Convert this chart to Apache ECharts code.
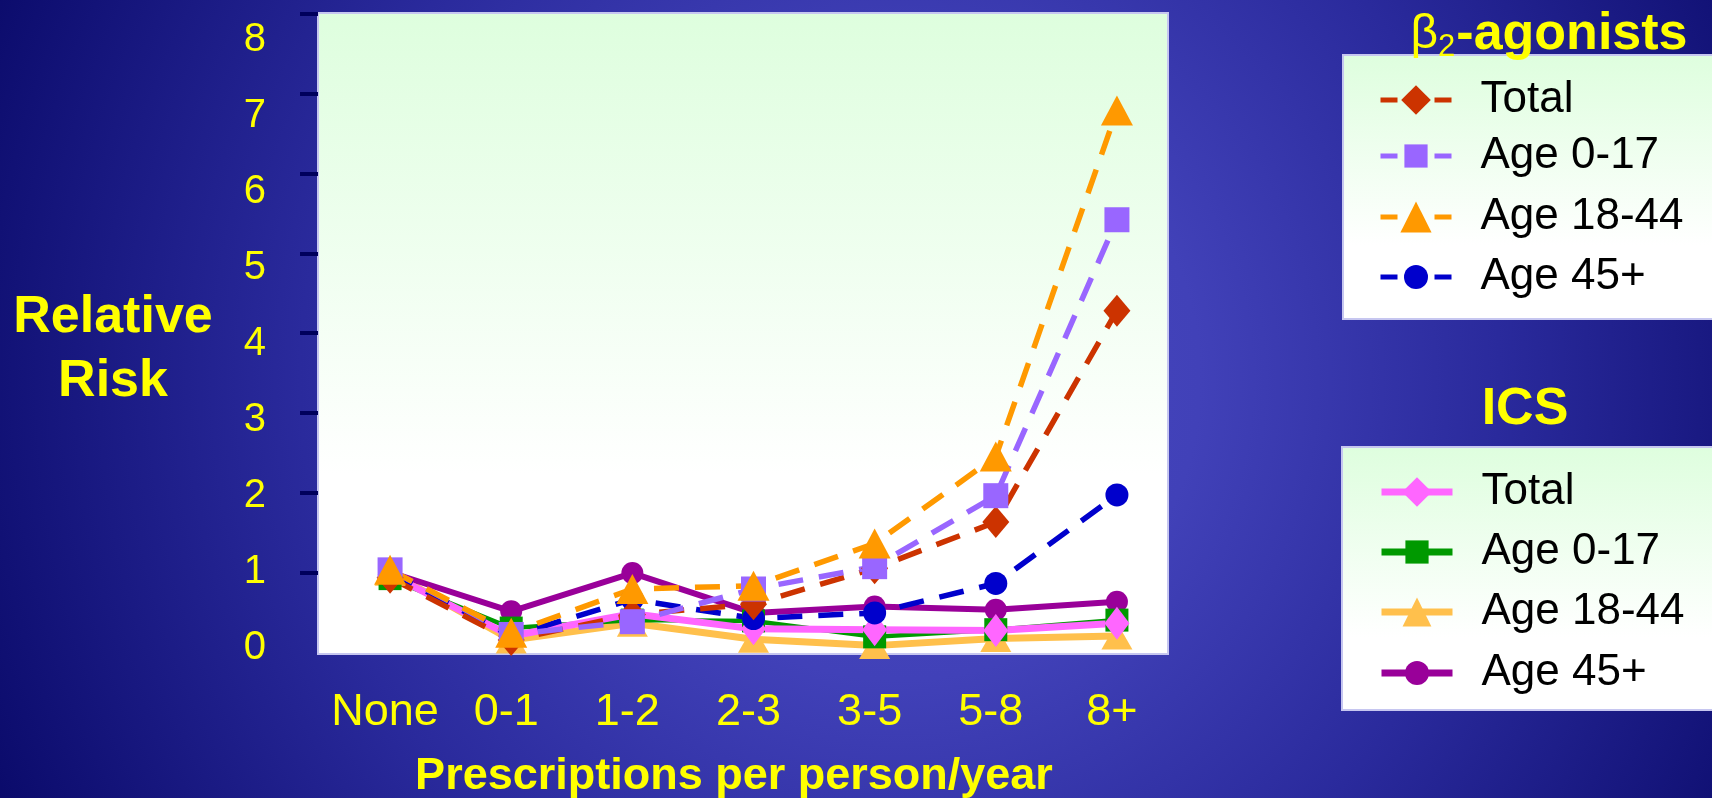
<!DOCTYPE html>
<html>
<head>
<meta charset="utf-8">
<script src="https://cdn.jsdelivr.net/npm/echarts@6/dist/echarts.min.js"></script>
<style>
  html, body { margin: 0; padding: 0; background: #0c0c6e; }
  #chart { width: 1712px; height: 798px; }
</style>
</head>
<body>
<div id="chart"></div>
<script>
// Prescription bands on the x axis
const categories = ['None', '0-1', '1-2', '2-3', '3-5', '5-8', '8+'];

// Relative-risk scale
const riskTicks = [0, 1, 2, 3, 4, 5, 6, 7, 8];
const riskTickMarks = [1, 2, 3, 4, 5, 6, 7, 8];

// β2-agonists (dashed lines)
const betaTotal   = [0.93, 0.15, 0.47, 0.60, 1.05, 1.63, 4.28];
const betaAge0_17 = [1.03, 0.22, 0.38, 0.79, 1.07, 1.96, 5.42];
const betaAge18_44 = [1.03, 0.24, 0.79, 0.83, 1.36, 2.45, 6.79];
const betaAge45   = [1.00, 0.20, 0.66, 0.42, 0.49, 0.86, 1.97];

// ICS (solid lines)
const icsTotal   = [0.97, 0.20, 0.48, 0.29, 0.28, 0.27, 0.36];
const icsAge0_17 = [0.92, 0.30, 0.40, 0.39, 0.19, 0.28, 0.40];
const icsAge18_44 = [1.00, 0.15, 0.36, 0.16, 0.08, 0.17, 0.20];
const icsAge45   = [1.00, 0.51, 0.99, 0.49, 0.57, 0.53, 0.63];

const FONT = '"Liberation Sans", Arial, Helvetica, sans-serif';
const YELLOW = '#FFFF00';
const SEP = ' · ';
const BETA = 'β2-agonists' + SEP;
const ICS = 'ICS' + SEP;

function lineSeries(name, data, color, symbol, size, dashed, width) {
  return {
    type: 'line',
    name: name,
    data: data,
    xAxisIndex: 0,
    yAxisIndex: 0,
    symbol: symbol,
    symbolSize: size,
    showAllSymbol: true,
    lineStyle: { color: color, width: width, type: dashed ? [25, 16] : 'solid', cap: 'butt' },
    itemStyle: { color: color, borderWidth: 0 },
    emphasis: { disabled: true },
    animation: false
  };
}

// Drawing order: ICS underneath, β2-agonists on top
const series = [
  lineSeries(ICS + 'Age 18-44', icsAge18_44, '#FFC04C', 'triangle', [31, 27], false, 7),
  lineSeries(ICS + 'Age 45+', icsAge45, '#990099', 'circle', 22, false, 6),
  lineSeries(ICS + 'Age 0-17', icsAge0_17, '#009900', 'rect', 23, false, 4.5),
  lineSeries(ICS + 'Total', icsTotal, '#FF66FF', 'diamond', [25, 33], false, 7),
  lineSeries(BETA + 'Age 45+', betaAge45, '#0000CC', 'circle', 23, true, 5.5),
  lineSeries(BETA + 'Total', betaTotal, '#CC3300', 'diamond', [27, 32], true, 5.5),
  lineSeries(BETA + 'Age 0-17', betaAge0_17, '#9966FF', 'rect', 25, true, 5.5),
  lineSeries(BETA + 'Age 18-44', betaAge18_44, '#FF9900', 'triangle', [32, 30], true, 5.5)
];

// One legend block per entry so each row sits exactly where it belongs
const legendRows = [
  { name: BETA + 'Total',     y: 100, h: 37, dashed: true },
  { name: BETA + 'Age 0-17',  y: 156, h: 29, dashed: true },
  { name: BETA + 'Age 18-44', y: 217, h: 39, dashed: true },
  { name: BETA + 'Age 45+',   y: 277, h: 30, dashed: true },
  { name: ICS + 'Total',      y: 492, h: 37, dashed: false },
  { name: ICS + 'Age 0-17',   y: 552, h: 29, dashed: false },
  { name: ICS + 'Age 18-44',  y: 612, h: 36, dashed: false },
  { name: ICS + 'Age 45+',    y: 673, h: 30, dashed: false }
];

const legends = legendRows.map(function (r) {
  return {
    data: [r.name],
    left: 1378,
    top: r.y - 25,
    padding: 0,
    itemGap: 0,
    itemWidth: 71,
    itemHeight: r.h,
    selectedMode: false,
    formatter: function (name) { return name.split(SEP)[1]; },
    textStyle: {
      color: '#000000', fontSize: 44, fontFamily: FONT, lineHeight: 50,
      padding: [0, 0, 0, 24]
    },
    itemStyle: { borderWidth: 0 },
    lineStyle: r.dashed ? { width: 5, type: [17, 37], cap: 'butt' } : { width: 7, type: 'solid', cap: 'butt' }
  };
});

const panelFill = {
  type: 'linear', x: 0, y: 0, x2: 0, y2: 1,
  colorStops: [
    { offset: 0, color: '#DEFEDE' },
    { offset: 0.72, color: '#FFFFFF' },
    { offset: 1, color: '#FFFFFF' }
  ]
};

const graphics = [
  {
    type: 'rect', z: -20, silent: true,
    shape: { x: 0, y: 0, width: 1712, height: 798 },
    style: {
      fill: {
        type: 'radial', x: 900, y: 380, r: 1000, global: true,
        colorStops: [
          { offset: 0, color: '#4949C2' },
          { offset: 0.3, color: '#4141B8' },
          { offset: 0.6, color: '#2A2A9C' },
          { offset: 1, color: '#0A0A6A' }
        ]
      }
    }
  },
  {
    type: 'rect', z: -10, silent: true,
    shape: { x: 318, y: 13, width: 850, height: 641 },
    style: { fill: panelFill, stroke: '#C6C6F0', lineWidth: 2 }
  },
  {
    type: 'rect', z: -10, silent: true,
    shape: { x: 1343, y: 55, width: 400, height: 264 },
    style: { fill: panelFill, stroke: '#C6C6F0', lineWidth: 2 }
  },
  {
    type: 'rect', z: -10, silent: true,
    shape: { x: 1342, y: 447, width: 400, height: 263 },
    style: { fill: panelFill, stroke: '#C6C6F0', lineWidth: 2 }
  },
  {
    type: 'text', z: 5, silent: true, x: 113, y: 350,
    style: {
      text: 'Relative\nRisk', fill: YELLOW, fontFamily: FONT, fontWeight: 'bold',
      fontSize: 52, lineHeight: 64, align: 'center', verticalAlign: 'middle'
    }
  },
  {
    type: 'text', z: 5, silent: true, x: 734, y: 777,
    style: {
      text: 'Prescriptions per person/year', fill: YELLOW, fontFamily: FONT, fontWeight: 'bold',
      fontSize: 45, lineHeight: 45, align: 'center', verticalAlign: 'middle'
    }
  },
  {
    type: 'text', z: 5, silent: true, x: 1549, y: 35,
    style: {
      text: '{b|β}{s|2}{a|-agonists}', align: 'center', verticalAlign: 'middle',
      rich: {
        b: { fill: YELLOW, fontFamily: FONT, fontSize: 48, lineHeight: 56 },
        s: { fill: YELLOW, fontFamily: FONT, fontSize: 31, lineHeight: 31, padding: [24, 1, 0, 0] },
        a: { fill: YELLOW, fontFamily: FONT, fontWeight: 'bold', fontSize: 52, lineHeight: 56 }
      }
    }
  },
  {
    type: 'text', z: 5, silent: true, x: 1525, y: 410,
    style: {
      text: 'ICS', fill: YELLOW, fontFamily: FONT, fontWeight: 'bold',
      fontSize: 52, lineHeight: 56, align: 'center', verticalAlign: 'middle'
    }
  }
];

const option = {
  animation: false,
  backgroundColor: '#0c0c6e',
  graphic: graphics,
  legend: legends,
  grid: [
    { left: 329.5, top: 14, width: 848, height: 638 },
    { left: 318, top: 40, width: 10, height: 608 }
  ],
  xAxis: [
    {
      gridIndex: 0, type: 'category', data: categories, boundaryGap: true,
      axisLine: { show: false }, axisTick: { show: false }, splitLine: { show: false },
      axisLabel: {
        color: YELLOW, fontSize: 45, fontFamily: FONT, margin: 61,
        verticalAlign: 'middle', padding: [0, 10, 0, 0], interval: 0
      }
    },
    { gridIndex: 1, type: 'value', show: false }
  ],
  yAxis: [
    {
      gridIndex: 0, type: 'value', min: 0, max: 8, interval: 1, offset: 11.5,
      axisLine: { show: false },
      axisTick: { show: true, length: 18, customValues: riskTickMarks, lineStyle: { color: '#00005C', width: 4 } },
      axisLabel: { show: false },
      splitLine: { show: false }
    },
    {
      gridIndex: 1, type: 'value', min: 0, max: 8, interval: 1,
      axisLine: { show: false }, axisTick: { show: false }, splitLine: { show: false },
      axisLabel: { color: YELLOW, fontSize: 40, fontFamily: FONT, margin: 52, customValues: riskTicks }
    }
  ],
  series: series
};

const chart = echarts.init(document.getElementById('chart'), null, { renderer: 'canvas', width: 1712, height: 798 });
chart.setOption(option);
</script>
</body>
</html>
